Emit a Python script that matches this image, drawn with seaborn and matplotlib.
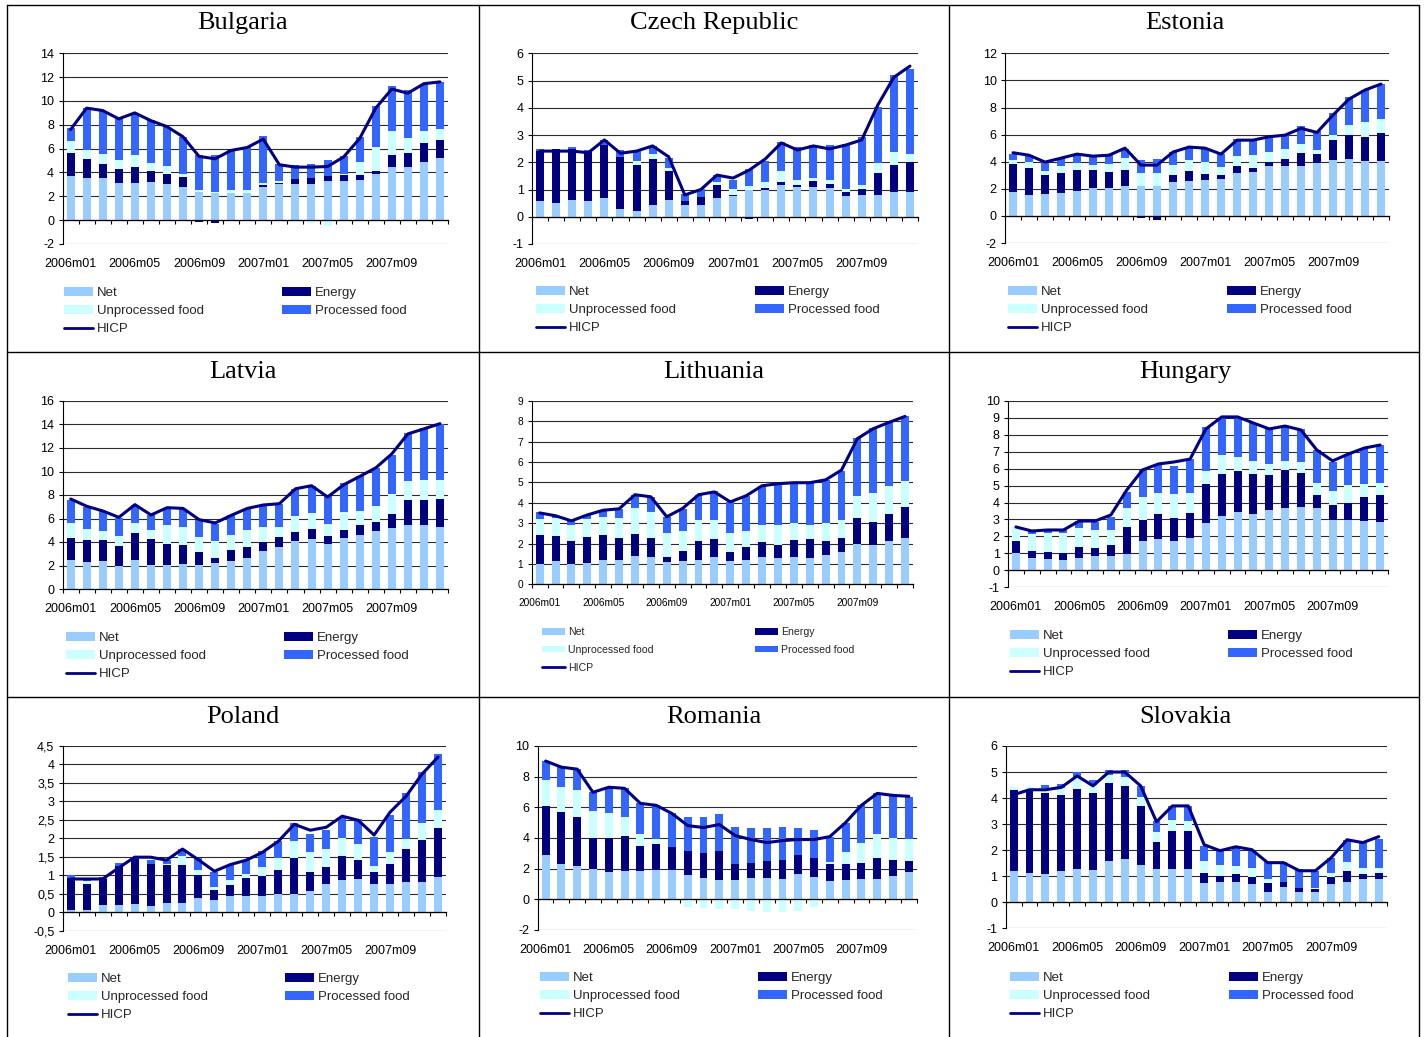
import numpy as np
import matplotlib
matplotlib.use("Agg")
import matplotlib.pyplot as plt
from matplotlib.patches import Patch
from matplotlib.lines import Line2D
import seaborn as sns

# ---------------------------------------------------------------- categories
MONTHS = ["2006m01", "2006m02", "2006m03", "2006m04", "2006m05", "2006m06",
          "2006m07", "2006m08", "2006m09", "2006m10", "2006m11", "2006m12",
          "2007m01", "2007m02", "2007m03", "2007m04", "2007m05", "2007m06",
          "2007m07", "2007m08", "2007m09", "2007m10", "2007m11", "2007m12"]
COMPONENTS = ["Net", "Energy", "Unprocessed food", "Processed food"]

# ---------------------------------------------------------------- Bulgaria
BG_NET = [3.7, 3.5, 3.5, 3.15, 3.15, 3.2, 3.05, 2.8, 2.4, 2.3, 2.3, 2.3, 2.8, 3.05, 3.05, 3.05, 3.3, 3.3, 3.4, 3.9, 4.5, 4.5, 4.9, 5.2]
BG_ENERGY = [1.9, 1.6, 1.2, 1.15, 1.35, 0.95, 0.85, 0.85, -0.15, -0.2, 0.0, -0.1, 0.12, 0.08, 0.4, 0.5, 0.4, 0.5, 0.4, 0.25, 1.0, 1.15, 1.6, 1.5]
BG_UNPROC = [1.0, 0.8, 0.85, 0.75, 1.0, 0.65, 0.65, 0.25, 0.15, 0.05, 0.25, 0.25, 0.2, 0.17, -0.15, -0.2, -0.45, 0.1, 1.1, 2.0, 1.95, 1.25, 1.0, 0.95]
BG_PROC = [1.1, 3.55, 3.65, 3.45, 3.5, 3.6, 3.3, 3.1, 2.9, 3.1, 3.3, 3.55, 3.95, 1.4, 1.2, 1.17, 1.35, 1.45, 2.1, 3.4, 3.8, 4.0, 3.95, 3.95]
BG_HICP = [7.6, 9.4, 9.2, 8.5, 9.0, 8.35, 7.85, 7.0, 5.35, 5.15, 5.85, 6.1, 6.8, 4.65, 4.45, 4.45, 4.5, 5.3, 6.85, 9.4, 11.0, 10.65, 11.45, 11.6]

# ---------------------------------------------------------------- Czech Republic
CZ_NET = [0.58, 0.5, 0.61, 0.58, 0.69, 0.28, 0.21, 0.43, 0.61, 0.43, 0.43, 0.69, 0.76, 0.98, 0.98, 1.16, 1.09, 1.09, 1.05, 0.76, 0.8, 0.8, 0.91, 0.91]
CZ_ENERGY = [1.83, 1.98, 1.86, 1.83, 1.94, 1.92, 1.69, 1.69, 1.07, 0.15, 0.29, 0.47, 0.04, -0.08, 0.07, 0.11, 0.07, 0.22, 0.15, 0.15, 0.22, 0.8, 0.99, 1.09]
CZ_UNPROC = [0.0, 0.0, -0.08, -0.03, 0.0, 0.0, 0.15, 0.18, 0.11, 0.0, -0.08, 0.13, 0.22, 0.15, 0.22, 0.41, 0.19, 0.11, 0.15, 0.11, 0.14, 0.37, 0.48, 0.3]
CZ_PROC = [0.08, 0.0, 0.08, 0.04, 0.2, 0.25, 0.37, 0.3, 0.36, 0.25, 0.3, 0.24, 0.33, 0.62, 0.77, 1.06, 1.21, 1.21, 1.28, 1.65, 1.77, 2.05, 2.82, 3.12]
CZ_HICP = [2.41, 2.41, 2.41, 2.35, 2.82, 2.33, 2.41, 2.6, 2.2, 0.8, 1.0, 1.53, 1.42, 1.71, 2.12, 2.71, 2.45, 2.6, 2.49, 2.63, 2.82, 4.1, 5.12, 5.53]

# ---------------------------------------------------------------- Estonia
EE_NET = [1.75, 1.53, 1.6, 1.68, 1.82, 2.05, 2.05, 2.19, 2.19, 2.19, 2.49, 2.56, 2.64, 2.71, 3.15, 3.23, 3.67, 3.67, 3.67, 3.89, 4.12, 4.19, 4.04, 4.04]
EE_ENERGY = [2.07, 2.0, 1.4, 1.47, 1.56, 1.33, 1.18, 1.19, -0.15, -0.32, 0.51, 0.74, 0.44, 0.29, 0.52, 0.29, 0.3, 0.52, 0.96, 0.67, 1.47, 1.77, 1.78, 2.07]
EE_UNPROC = [0.3, 0.45, 0.3, 0.52, 0.51, 0.37, 0.59, 0.88, 0.96, 0.96, 0.75, 0.82, 0.89, 0.6, 0.74, 0.96, 0.74, 0.74, 0.67, 0.29, 0.37, 0.74, 1.1, 1.04]
EE_PROC = [0.44, 0.5, 0.67, 0.59, 0.67, 0.66, 0.66, 0.67, 0.97, 1.04, 0.96, 0.96, 1.03, 0.96, 1.26, 1.19, 1.18, 1.11, 1.33, 1.41, 1.63, 2.07, 2.37, 2.58]
EE_HICP = [4.66, 4.48, 3.97, 4.26, 4.56, 4.41, 4.48, 5.0, 3.75, 3.75, 4.71, 5.08, 5.0, 4.56, 5.59, 5.59, 5.84, 5.96, 6.46, 6.16, 7.44, 8.62, 9.29, 9.73]

# ---------------------------------------------------------------- Latvia
LV_NET = [2.5, 2.34, 2.42, 2.0, 2.51, 2.08, 2.08, 2.17, 2.08, 2.25, 2.42, 2.68, 3.27, 3.61, 4.12, 4.29, 3.87, 4.38, 4.63, 4.97, 5.22, 5.48, 5.48, 5.31]
LV_ENERGY = [1.87, 1.87, 1.79, 1.7, 2.29, 2.21, 1.79, 1.61, 1.11, 0.43, 0.94, 0.93, 0.77, 0.85, 0.77, 0.85, 0.67, 0.67, 0.85, 0.76, 1.19, 2.12, 2.12, 2.38]
LV_UNPROC = [1.27, 0.93, 0.76, 0.84, 0.85, 0.76, 1.61, 1.53, 1.27, 1.44, 1.27, 1.44, 1.27, 0.85, 1.35, 1.36, 1.02, 1.53, 1.19, 1.36, 1.7, 1.61, 1.7, 1.61]
LV_PROC = [1.95, 1.86, 1.7, 1.53, 1.53, 1.28, 1.44, 1.53, 1.44, 1.44, 1.7, 1.79, 1.78, 1.95, 2.29, 2.29, 2.38, 2.42, 2.97, 3.22, 3.31, 4.04, 4.41, 4.77]
LV_HICP = [7.66, 7.04, 6.64, 6.1, 7.18, 6.3, 6.92, 6.86, 5.9, 5.62, 6.27, 6.86, 7.15, 7.26, 8.53, 8.79, 7.83, 8.87, 9.58, 10.31, 11.5, 13.2, 13.63, 14.07]

# ---------------------------------------------------------------- Lithuania
LT_NET = [0.98, 1.15, 1.0, 1.05, 1.19, 1.19, 1.39, 1.34, 1.1, 1.15, 1.19, 1.34, 1.15, 1.19, 1.34, 1.29, 1.34, 1.29, 1.44, 1.59, 1.98, 1.93, 2.13, 2.27]
LT_ENERGY = [1.44, 1.22, 1.13, 1.27, 1.23, 1.08, 1.08, 0.93, 0.24, 0.49, 0.94, 0.89, 0.44, 0.64, 0.74, 0.64, 0.84, 0.94, 0.69, 0.68, 1.28, 1.13, 1.32, 1.53]
LT_UNPROC = [0.79, 0.89, 0.78, 0.89, 0.89, 0.99, 1.28, 1.28, 1.18, 0.98, 1.03, 0.93, 0.93, 0.79, 0.83, 0.98, 0.83, 0.68, 0.88, 0.89, 1.08, 1.42, 1.38, 1.27]
LT_PROC = [0.34, 0.1, 0.2, 0.19, 0.29, 0.44, 0.64, 0.74, 0.79, 1.08, 1.23, 1.42, 1.52, 1.72, 1.92, 2.02, 1.97, 2.07, 2.11, 2.4, 2.84, 3.2, 3.14, 3.2]
LT_HICP = [3.5, 3.36, 3.11, 3.4, 3.63, 3.7, 4.39, 4.29, 3.31, 3.72, 4.39, 4.53, 4.04, 4.34, 4.83, 4.93, 4.98, 4.98, 5.12, 5.6, 7.14, 7.63, 7.94, 8.23]

# ---------------------------------------------------------------- Hungary
HU_NET = [1.02, 0.73, 0.67, 0.61, 0.73, 0.85, 0.85, 0.96, 1.73, 1.85, 1.73, 1.91, 2.8, 3.21, 3.44, 3.33, 3.56, 3.68, 3.74, 3.68, 2.97, 2.97, 2.91, 2.85]
HU_ENERGY = [0.71, 0.41, 0.41, 0.41, 0.65, 0.47, 0.65, 1.6, 1.24, 1.48, 1.36, 1.48, 2.3, 2.48, 2.43, 2.36, 2.07, 2.25, 2.01, 0.77, 0.89, 1.01, 1.42, 1.6]
HU_UNPROC = [0.83, 1.01, 1.12, 1.18, 1.12, 1.06, 0.88, 1.12, 1.36, 1.24, 1.42, 1.18, 0.77, 1.12, 0.82, 0.77, 0.65, 0.53, 0.65, 0.71, 0.83, 1.06, 0.77, 0.71]
HU_PROC = [0.0, 0.17, 0.18, 0.18, 0.41, 0.47, 0.77, 0.95, 1.6, 1.71, 1.67, 2.0, 2.59, 2.18, 2.31, 2.24, 2.07, 2.06, 1.95, 1.95, 1.71, 1.83, 2.07, 2.24]
HU_HICP = [2.56, 2.32, 2.38, 2.38, 2.91, 2.91, 3.27, 4.74, 5.93, 6.28, 6.4, 6.57, 8.35, 9.06, 9.06, 8.7, 8.35, 8.52, 8.29, 7.11, 6.46, 6.87, 7.22, 7.4]

# ---------------------------------------------------------------- Poland
PL_NET = [0.05, 0.05, 0.19, 0.19, 0.22, 0.16, 0.24, 0.24, 0.38, 0.33, 0.43, 0.43, 0.43, 0.49, 0.49, 0.57, 0.76, 0.87, 0.89, 0.76, 0.76, 0.81, 0.81, 0.95]
PL_ENERGY = [0.87, 0.71, 0.7, 1.06, 1.22, 1.14, 1.03, 1.03, 0.62, 0.27, 0.3, 0.49, 0.55, 0.65, 0.97, 0.51, 0.46, 0.65, 0.52, 0.32, 0.54, 0.9, 1.14, 1.33]
PL_UNPROC = [-0.05, 0.08, -0.07, -0.04, 0.0, 0.0, 0.03, 0.25, 0.14, 0.08, 0.14, 0.11, 0.24, 0.32, 0.46, 0.55, 0.49, 0.49, 0.43, 0.17, 0.33, 0.27, 0.46, 0.48]
PL_PROC = [0.08, 0.05, 0.06, 0.08, 0.05, 0.11, 0.11, 0.19, 0.32, 0.4, 0.4, 0.38, 0.43, 0.46, 0.49, 0.48, 0.51, 0.56, 0.68, 0.78, 1.0, 1.24, 1.38, 1.52]
PL_HICP = [0.9, 0.9, 0.9, 1.2, 1.49, 1.49, 1.41, 1.71, 1.42, 1.11, 1.29, 1.41, 1.62, 1.92, 2.38, 2.22, 2.3, 2.6, 2.49, 2.09, 2.71, 3.14, 3.74, 4.2]

# ---------------------------------------------------------------- Romania
RO_NET = [2.91, 2.32, 2.19, 1.99, 1.79, 1.86, 1.86, 1.93, 1.93, 1.6, 1.4, 1.27, 1.27, 1.4, 1.4, 1.33, 1.66, 1.47, 1.2, 1.27, 1.33, 1.33, 1.53, 1.79]
RO_ENERGY = [3.15, 3.35, 3.21, 2.04, 2.24, 2.3, 1.64, 1.7, 1.51, 1.57, 1.64, 1.9, 1.05, 0.99, 1.12, 1.25, 1.25, 1.24, 1.12, 1.05, 1.06, 1.38, 1.05, 0.73]
RO_UNPROC = [1.71, 1.64, 1.71, 1.7, 1.57, 1.18, 0.79, 0.33, -0.1, -0.5, -0.55, -0.63, -0.6, -0.75, -0.82, -0.8, -0.75, -0.5, 0.13, 0.79, 1.31, 1.58, 1.45, 1.44]
RO_PROC = [1.25, 1.31, 1.38, 1.25, 1.64, 1.9, 1.97, 2.17, 2.16, 2.17, 2.3, 2.37, 2.43, 2.29, 2.1, 2.17, 1.77, 1.78, 1.64, 1.9, 2.43, 2.62, 2.75, 2.69]
RO_HICP = [9.02, 8.62, 8.49, 6.98, 7.31, 7.24, 6.26, 6.13, 5.6, 4.81, 4.68, 4.88, 4.16, 3.9, 3.7, 3.83, 3.9, 3.9, 4.09, 5.01, 6.13, 6.91, 6.78, 6.72]

# ---------------------------------------------------------------- Slovakia
SK_NET = [1.21, 1.14, 1.1, 1.21, 1.29, 1.25, 1.6, 1.67, 1.44, 1.29, 1.29, 1.29, 0.75, 0.79, 0.79, 0.72, 0.41, 0.6, 0.41, 0.41, 0.72, 0.79, 0.91, 0.91]
SK_ENERGY = [3.11, 3.18, 3.08, 2.92, 3.07, 2.95, 2.98, 2.8, 2.26, 1.03, 1.46, 1.46, 0.39, 0.23, 0.31, 0.26, 0.34, 0.19, 0.15, 0.11, 0.26, 0.42, 0.19, 0.23]
SK_UNPROC = [0.12, 0.15, 0.2, 0.25, 0.4, 0.31, 0.31, 0.34, 0.35, 0.39, 0.42, 0.38, 0.46, 0.42, 0.3, 0.35, 0.16, 0.0, 0.0, 0.04, 0.16, 0.35, 0.23, 0.19]
SK_PROC = [0.0, 0.0, 0.13, 0.17, 0.24, 0.19, 0.19, 0.27, 0.42, 0.42, 0.53, 0.57, 0.57, 0.58, 0.69, 0.65, 0.65, 0.77, 0.73, 0.65, 0.57, 0.84, 0.96, 1.11]
SK_HICP = [4.13, 4.32, 4.32, 4.41, 4.85, 4.47, 5.0, 5.0, 4.47, 3.09, 3.7, 3.7, 2.21, 1.98, 2.13, 2.02, 1.52, 1.52, 1.21, 1.21, 1.71, 2.4, 2.29, 2.52]

# ---------------------------------------------------------------- styling
C_NET, C_ENERGY, C_UNPROC, C_PROC = "#99CCFF", "#000080", "#CCFFFF", "#3366FF"
C_HICP = "#000080"
COLORS = [C_NET, C_ENERGY, C_UNPROC, C_PROC]

W, H = 1426, 1037

sns.set_theme(style="white")
plt.rcParams["font.family"] = ["Liberation Sans", "DejaVu Sans"]

fig = plt.figure(figsize=(W / 100, H / 100), dpi=100)
fig.patch.set_facecolor("white")


def fx(px):
    return px / W


def fy(py):
    return 1 - py / H


def panel(name, comps, hicp, ylim, ystep, box, title_xy, legend_xy,
          tick_fs=9, legend_fs=9.5, row_gap=18.5, decimal_comma=False):
    left, right, top, bottom = box
    ax = fig.add_axes([fx(left), fy(bottom), (right - left) / W, (bottom - top) / H])

    # stacked bars: positive parts pile upward, negative parts downward
    pos = np.zeros(len(MONTHS))
    neg = np.zeros(len(MONTHS))
    for vals, col in zip(comps, COLORS):
        v = np.asarray(vals, dtype=float)
        base = np.where(v >= 0, pos, neg)
        sns.barplot(x=MONTHS, y=v, bottom=base, color=col, saturation=1,
                    width=0.5, linewidth=0, errorbar=None, ax=ax, zorder=1)
        pos = pos + np.where(v >= 0, v, 0)
        neg = neg + np.where(v < 0, v, 0)

    sns.lineplot(x=np.arange(len(MONTHS)), y=hicp, color=C_HICP, lw=2.2,
                 ax=ax, zorder=3)

    ax.set_xlabel("")
    ax.set_ylabel("")
    ax.set_xlim(-0.5, len(MONTHS) - 0.5)
    ax.set_ylim(*ylim)

    yt = np.arange(ylim[0], ylim[1] + ystep / 2, ystep)
    if decimal_comma:
        labels = [f"{t:g}".replace(".", ",") for t in yt]
    else:
        labels = [f"{t:.0f}" for t in yt]
    ax.set_yticks(yt)
    ax.set_yticklabels(labels)
    ax.yaxis.grid(True, color="#2b2b2b", lw=0.8)
    ax.xaxis.grid(False)
    ax.set_axisbelow(True)
    ax.set_facecolor("white")

    for s in ("top", "right"):
        ax.spines[s].set_visible(False)
    ax.spines["left"].set_color("#000000")
    ax.spines["left"].set_linewidth(0.8)
    ax.spines["bottom"].set_color("#000000")
    ax.spines["bottom"].set_linewidth(0.9)
    ax.spines["bottom"].set_position(("data", 0))

    ax.set_xticks(np.arange(-0.5, len(MONTHS), 1))
    ax.set_xticklabels([])
    ax.tick_params(axis="x", length=3, width=0.8, color="black", direction="out",
                   bottom=True)
    ax.tick_params(axis="y", length=3, width=0.8, color="black", direction="out",
                   left=True, labelsize=tick_fs, pad=3, labelcolor="black")

    sec = ax.secondary_xaxis("bottom")
    idx = list(range(0, len(MONTHS), 4))
    sec.set_xticks(idx, [MONTHS[i] for i in idx])
    sec.tick_params(length=0, pad=10, labelsize=tick_fs, labelcolor="black")
    sec.spines["bottom"].set_visible(False)

    fig.text(fx(title_xy[0]), fy(title_xy[1]), name, ha="center", va="center",
             family=["Liberation Serif", "DejaVu Serif"], fontsize=19, color="black")

    x1, x2, y1 = legend_xy
    fs_px = legend_fs * 100 / 72
    spacing = (row_gap - 0.94 * fs_px) / fs_px
    kw = dict(loc="upper left", frameon=False, fontsize=legend_fs, borderpad=0,
              borderaxespad=0, handlelength=2.2, handleheight=0.6,
              handletextpad=0.3, labelspacing=spacing, bbox_transform=fig.transFigure)
    h1 = [Patch(facecolor=C_NET, lw=0), Patch(facecolor=C_UNPROC, lw=0),
          Line2D([], [], color=C_HICP, lw=2)]
    leg1 = ax.legend(h1, ["Net", "Unprocessed food", "HICP"],
                     bbox_to_anchor=(fx(x1), fy(y1 - 4)), **kw)
    ax.add_artist(leg1)
    h2 = [Patch(facecolor=C_ENERGY, lw=0), Patch(facecolor=C_PROC, lw=0)]
    ax.legend(h2, ["Energy", "Processed food"],
              bbox_to_anchor=(fx(x2), fy(y1 - 4)), **kw)
    return ax


panel("Bulgaria", [BG_NET, BG_ENERGY, BG_UNPROC, BG_PROC], BG_HICP, (-2, 14), 2,
      (62.5, 448, 53.3, 244), (243, 23), (64, 282, 291))
panel("Czech Republic", [CZ_NET, CZ_ENERGY, CZ_UNPROC, CZ_PROC], CZ_HICP, (-1, 6), 1,
      (532, 918, 53.3, 244), (714, 23), (536, 755, 290))
panel("Estonia", [EE_NET, EE_ENERGY, EE_UNPROC, EE_PROC], EE_HICP, (-2, 12), 2,
      (1005, 1389, 53.3, 243), (1185, 23), (1008, 1227, 290))
panel("Latvia", [LV_NET, LV_ENERGY, LV_UNPROC, LV_PROC], LV_HICP, (0, 16), 2,
      (62.7, 448, 401, 589), (243, 372), (66, 284, 636))
panel("Lithuania", [LT_NET, LT_ENERGY, LT_UNPROC, LT_PROC], LT_HICP, (0, 9), 1,
      (531.7, 913, 400.7, 584.3), (714, 372), (542, 755, 631),
      tick_fs=7.3, legend_fs=7.6, row_gap=17.7)
panel("Hungary", [HU_NET, HU_ENERGY, HU_UNPROC, HU_PROC], HU_HICP, (-1, 10), 1,
      (1008, 1388, 401, 587.2), (1185, 372), (1010, 1228, 634))
panel("Poland", [PL_NET, PL_ENERGY, PL_UNPROC, PL_PROC], PL_HICP, (-0.5, 4.5), 0.5,
      (62.7, 446, 746, 930.7), (243, 717), (68, 285, 977), decimal_comma=True)
panel("Romania", [RO_NET, RO_ENERGY, RO_UNPROC, RO_PROC], RO_HICP, (-2, 10), 2,
      (537.7, 916.7, 746, 930), (714, 717), (540, 758, 976))
panel("Slovakia", [SK_NET, SK_ENERGY, SK_UNPROC, SK_PROC], SK_HICP, (-1, 6), 1,
      (1005.7, 1386.7, 746, 928.3), (1185, 717), (1010, 1229, 976))

# table frame around the nine panels
for x in (7, 479, 949, 1419):
    fig.add_artist(Line2D([fx(x), fx(x)], [fy(5), fy(H + 2)], transform=fig.transFigure,
                          color="black", lw=1.0))
for y in (5, 352, 697):
    fig.add_artist(Line2D([fx(7), fx(1419)], [fy(y), fy(y)], transform=fig.transFigure,
                          color="black", lw=1.0))

fig.savefig("out.png", dpi=100, facecolor="white")
